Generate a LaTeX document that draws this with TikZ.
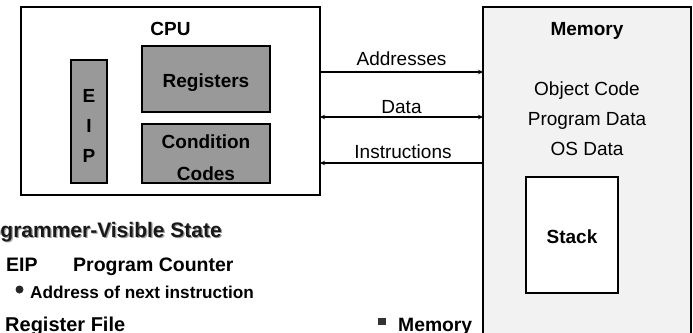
\documentclass[tikz,border=0pt]{standalone}
\usepackage{fontspec}
\setmainfont{Liberation Sans}
\usetikzlibrary{arrows.meta}

\definecolor{unitgray}{HTML}{999999}
\definecolor{memfill}{HTML}{F2F2F2}
\definecolor{shadowgray}{HTML}{A0A0A0}

\tikzset{
  box/.style={draw, line width=2.4pt, inner sep=0pt, outer sep=0pt},
  unit/.style={box, fill=unitgray, line width=2.2pt},
  lbl/.style={inner sep=0pt, anchor=base, font=\fontsize{19}{19}\selectfont},
  blbl/.style={lbl, font=\fontsize{19}{19}\selectfont\bfseries},
  bus/.style={line width=1.7pt, -{Stealth[length=5pt,width=4.5pt]}},
  note/.style={inner sep=0pt, anchor=base west, font=\fontsize{19.5}{19.5}\selectfont\bfseries},
}

\begin{document}
\begin{tikzpicture}[x=1pt, y=-1pt]
  \useasboundingbox (0,0) rectangle (693,332);
  \begin{scope}
  \clip (0,0) rectangle (693,332);

  % memory block (runs past the lower edge)
  \node[box, fill=memfill, line width=2pt, minimum width=208pt, minimum height=338pt] (mem) at (587,176) {};
  \node[blbl] (memtitle) at (587,35) {Memory};
  \node[lbl] (objcode) at (587,95) {Object Code};
  \node[lbl] (progdata) at (587,125) {Program Data};
  \node[lbl] (osdata) at (587,155) {OS Data};
  \node[box, fill=white, line width=2.5pt, minimum width=92pt, minimum height=116pt] (stack) at (572,235) {};
  \node[blbl] (stacklbl) at (572,243) {Stack};

  % processor block
  \node[box, minimum width=299pt, minimum height=188pt] (cpu) at (170.5,101) {};
  \node[blbl] (cputitle) at (170.5,35) {CPU};
  \node[unit, minimum width=36pt, minimum height=123pt] (eip) at (89,121.5) {};
  \node[blbl] (eipE) at (89,102) {E};
  \node[blbl] (eipI) at (89,132) {I};
  \node[blbl] (eipP) at (89,162) {P};
  \node[unit, minimum width=128pt, minimum height=66pt] (regs) at (206,79) {};
  \node[blbl] (regslbl) at (206,87) {Registers};
  \node[unit, minimum width=128pt, minimum height=59pt] (cc) at (206,153.5) {};
  \node[blbl] (cc1) at (206,148) {Condition};
  \node[blbl] (cc2) at (206,180) {Codes};

  % buses between processor and memory
  \coordinate (addrY) at (0,72);
  \coordinate (dataY) at (0,117);
  \coordinate (instrY) at (0,163);
  \draw[bus] (cpu.east |- addrY) -- (mem.west |- addrY);
  \draw[bus, {Stealth[length=5pt,width=4.5pt]}-{Stealth[length=5pt,width=4.5pt]}] (cpu.east |- dataY) -- (mem.west |- dataY);
  \draw[bus, line width=2.8pt] (mem.west |- instrY) -- (cpu.east |- instrY);
  \node[lbl] (addrlbl) at (401.5,65) {Addresses};
  \node[lbl] (datalbl) at (401.5,113) {Data};
  \node[lbl] (instrlbl) at (403,158) {Instructions};

  % state summary
  \node[note, anchor=base east, text=shadowgray, font=\fontsize{21}{21}\selectfont\bfseries] (headshadow) at (223.3,238.3) {Programmer-Visible State};
  \node[note, anchor=base east, text=black!90, font=\fontsize{21}{21}\selectfont\bfseries] (heading) at (222,237) {Programmer-Visible State};
  \node[note] (eipname) at (6,271) {EIP};
  \node[note] (pcname) at (73,271) {Program Counter};
  \fill[black!85] (19.5,289.5) circle (4pt);
  \node[note, font=\fontsize{17.2}{17.2}\selectfont\bfseries] (pcnote) at (30,298) {Address of next instruction};
  \node[note, font=\fontsize{20}{20}\selectfont\bfseries] (regfile) at (5,331) {Register File};
  \fill[black!80] (378,318) rectangle (386,325);
  \node[note, font=\fontsize{19.3}{19.3}\selectfont\bfseries] (memitem) at (398,331) {Memory};
  \end{scope}
\end{tikzpicture}
\end{document}
